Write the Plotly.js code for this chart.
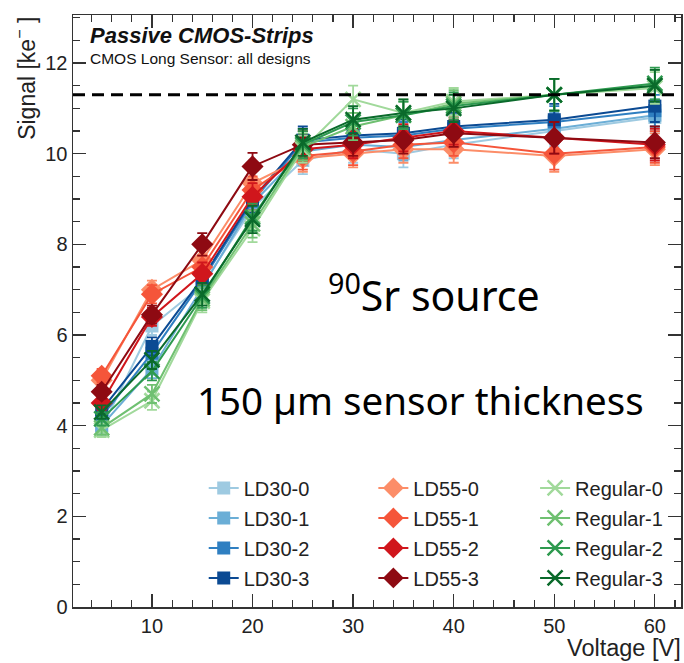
<!DOCTYPE html>
<html>
<head>
<meta charset="utf-8">
<script src="https://cdn.plot.ly/plotly-3.0.1.min.js"></script>
<style>html,body{margin:0;padding:0;background:#fff;}#plot{width:684px;height:663px;}</style>
</head>
<body>
<div id="plot"></div>
<script>
const voltage = [5, 10, 15, 20, 25, 30, 35, 40, 50, 60];
const ld30_0 = [3.95, 6.2, 7.1, 8.8, 9.85, 10.1, 10.0, 10.2, 10.5, 10.8];
const ld30_1 = [4.0, 5.25, 7.05, 8.9, 10.05, 10.2, 10.15, 10.3, 10.55, 10.85];
const ld30_2 = [4.2, 5.6, 7.2, 8.95, 10.25, 10.35, 10.4, 10.55, 10.7, 10.95];
const ld30_3 = [4.35, 5.75, 7.25, 9.0, 10.3, 10.4, 10.45, 10.6, 10.75, 11.05];
const ld55_0 = [5.0, 7.0, 7.65, 9.35, 9.9, 10.0, 10.1, 10.1, 9.95, 10.1];
const ld55_1 = [5.1, 6.9, 7.5, 9.2, 9.95, 10.05, 10.2, 10.25, 10.0, 10.15];
const ld55_2 = [4.5, 6.4, 7.35, 9.05, 10.1, 10.2, 10.35, 10.5, 10.35, 10.2];
const ld55_3 = [4.75, 6.45, 8.0, 9.72, 10.2, 10.25, 10.3, 10.45, 10.35, 10.25];
const regular_0 = [3.9, 4.55, 6.75, 8.35, 10.1, 11.2, 10.9, 11.15, 11.3, 11.45];
const regular_1 = [3.95, 4.7, 6.8, 8.45, 10.15, 10.6, 10.85, 11.1, 11.3, 11.5];
const regular_2 = [4.15, 5.2, 6.85, 8.6, 10.2, 10.7, 10.85, 11.05, 11.3, 11.55];
const regular_3 = [4.3, 5.45, 6.9, 8.55, 10.25, 10.75, 10.9, 11.0, 11.3, 11.5];
const signalErr = [0.15, 0.2, 0.25, 0.3, 0.3, 0.3, 0.3, 0.3, 0.35, 0.35];
const referenceSignal = 11.3;

const seriesNames = ["LD30-0","LD30-1","LD30-2","LD30-3","LD55-0","LD55-1","LD55-2","LD55-3","Regular-0","Regular-1","Regular-2","Regular-3"];
const seriesValues = [ld30_0, ld30_1, ld30_2, ld30_3, ld55_0, ld55_1, ld55_2, ld55_3, regular_0, regular_1, regular_2, regular_3];
const seriesColors = ["#9ecae1","#6baed6","#2f7fc1","#0b4a93","#fc8d68","#f5553a","#d0161c","#8e0a12","#a1d99b","#6fc071","#2e9a4f","#0a6a2b"];

const traces = seriesValues.map((vals, i) => {
  const fam = Math.floor(i / 4);
  const sym = fam === 0 ? "square" : (fam === 1 ? "diamond" : "x-thin-open");
  const size = fam === 0 ? 13 : (fam === 1 ? 17 : 15);
  return {
    x: voltage, y: vals, name: seriesNames[i], type: "scatter", mode: "lines+markers",
    line: {color: seriesColors[i], width: 2},
    marker: {symbol: sym, size: size, color: seriesColors[i], line: {color: seriesColors[i], width: fam === 2 ? 2.5 : 0}},
    error_y: {type: "data", array: signalErr, visible: true, color: seriesColors[i], thickness: 1.8, width: 5},
    legend: fam === 0 ? "legend" : (fam === 1 ? "legend2" : "legend3"),
    legendgroup: "g" + i
  };
});

const legFont = {family: "Liberation Sans, Arial, sans-serif", size: 20, color: "#222"};
const legBase = {font: legFont, bgcolor: "rgba(0,0,0,0)", yanchor: "top", y: 0.234, xanchor: "left", tracegroupgap: 1, itemsizing: "trace"};

const axisCommon = {
  showgrid: false, zeroline: false, showline: true, linecolor: "#333", linewidth: 1.5, mirror: "ticks",
  ticks: "inside", ticklen: 13, tickwidth: 1.3, tickcolor: "#333",
  tickfont: {family: "Liberation Sans, Arial, sans-serif", size: 20, color: "#222"}
};

const layout = {
  width: 684, height: 663,
  margin: {l: 73, r: 3, t: 15, b: 56},
  paper_bgcolor: "#fff", plot_bgcolor: "#fff",
  showlegend: true,
  xaxis: Object.assign({}, axisCommon, {range: [2.15, 62.6], dtick: 10, tick0: 0,
    minor: {dtick: 2, ticks: "inside", ticklen: 7, tickcolor: "#333", tickwidth: 1.1}}),
  yaxis: Object.assign({}, axisCommon, {range: [0, 13.06], dtick: 2, tick0: 0,
    minor: {dtick: 0.5, ticks: "inside", ticklen: 7, tickcolor: "#333", tickwidth: 1.1}}),
  legend: Object.assign({}, legBase, {x: 0.215}),
  legend2: Object.assign({}, legBase, {x: 0.494}),
  legend3: Object.assign({}, legBase, {x: 0.76}),
  shapes: [{type: "line", xref: "paper", x0: 0, x1: 1, yref: "y", y0: referenceSignal, y1: referenceSignal,
    line: {color: "#000", width: 3, dash: "12px,7px"}}],
  annotations: [
    {text: "<b><i>Passive CMOS-Strips</i></b>", xref: "paper", yref: "paper", x: 0.024, y: 0.965, xanchor: "left", yanchor: "middle", showarrow: false,
      font: {family: "Liberation Sans, Arial, sans-serif", size: 22, color: "#111"}},
    {text: "CMOS Long Sensor: all designs", xref: "paper", yref: "paper", x: 0.024, y: 0.926, xanchor: "left", yanchor: "middle", showarrow: false,
      font: {family: "Liberation Sans, Arial, sans-serif", size: 15.5, color: "#111"}},
    {text: "<sup>90</sup>Sr source", xref: "paper", yref: "paper", x: 0.416, y: 0.53, xanchor: "left", yanchor: "middle", showarrow: false,
      font: {family: "Noto Sans, sans-serif", size: 41, color: "#000"}},
    {text: "150 µm sensor thickness", xref: "paper", yref: "paper", x: 0.2, y: 0.35, xanchor: "left", yanchor: "middle", showarrow: false,
      font: {family: "Noto Sans, sans-serif", size: 38.5, color: "#000"}},
    {text: "Signal [ke<sup>−</sup> ]", xref: "paper", yref: "paper", x: -0.08, y: 1.0, xanchor: "center", yanchor: "top", textangle: -90, showarrow: false,
      font: {family: "Liberation Sans, Arial, sans-serif", size: 23, color: "#222"}},
    {text: "Voltage [V]", xref: "paper", yref: "paper", x: 1.004, y: -0.069, xanchor: "right", yanchor: "middle", showarrow: false,
      font: {family: "Liberation Sans, Arial, sans-serif", size: 23.5, color: "#222"}}
  ]
};

Plotly.newPlot("plot", traces, layout, {displayModeBar: false, staticPlot: true});
</script>
</body>
</html>
